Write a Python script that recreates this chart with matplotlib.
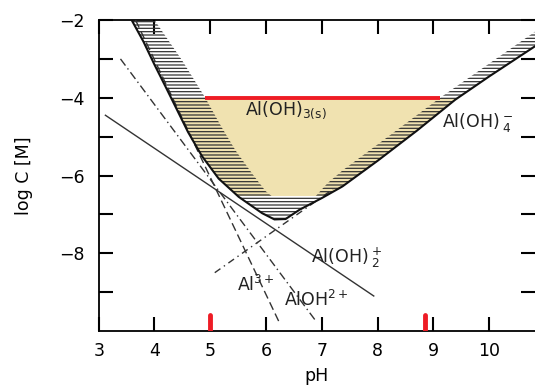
import matplotlib
matplotlib.use("Agg")
import matplotlib.pyplot as plt
from matplotlib.patches import Rectangle

plt.rcParams['font.family'] = ['DejaVu Sans']
plt.rcParams['mathtext.fontset'] = 'dejavusans'
plt.rcParams['hatch.linewidth'] = 0.9

# curva de solubilidade total (limite inferior da faixa hachurada)
outer_ph = [3.59, 3.8, 4.0, 4.2, 4.4, 4.6, 4.85, 5.15, 5.51, 5.93, 6.15, 6.35,
            6.6, 7.0, 7.37, 8.0, 8.7, 9.39, 10.0, 10.55, 10.9]
outer_log = [-2.0, -2.55, -3.15, -3.72, -4.3, -4.88, -5.5, -6.08, -6.55, -6.97, -7.13, -7.12,
             -6.88, -6.58, -6.28, -5.62, -4.85, -4.05, -3.45, -2.93, -2.6]

# limite superior da faixa hachurada
inner_ph = [4.0, 4.5, 4.91, 5.2, 5.45, 5.75, 5.99, 6.1, 6.89, 7.1, 7.37, 8.0, 9.12, 10.0, 10.9]
inner_log = [-2.0, -3.05, -4.0, -4.75, -5.35, -5.95, -6.4, -6.53, -6.53, -6.2, -5.87, -5.2,
             -4.0, -3.12, -2.22]

# retas das especies
al3_ph, al3_log = [3.66, 6.23], [-2.0, -9.76]
aloh_ph, aloh_log = [3.39, 6.88], [-3.0, -9.72]
aloh2_ph, aloh2_log = [3.12, 7.93], [-4.45, -9.1]
aloh4_ph, aloh4_log = [5.08, 7.2], [-8.5, -6.35]

# linha vermelha e marcas no eixo
red_ph, red_log = [4.9, 9.12], [-4.0, -4.0]
mark_ph = [5.0, 8.85]
mark_log = [-9.6, -10.0]
beige_lim = [-6.53, -4.0]

labels = ['Al(OH)$_{\\mathrm{3(s)}}$', 'Al(OH)$\\,{}_{4}^{-}$', 'Al(OH)$\\,{}_{2}^{+}$',
          'Al$^{3+}$', 'AlOH$^{2+}$']
label_ph = [5.63, 9.15, 6.8, 5.48, 6.32]
label_log = [-4.45, -4.75, -8.25, -8.96, -9.37]

fig = plt.figure(figsize=(5.35, 3.85), dpi=100)
ax = fig.add_axes([0.1845, 0.1403, 0.8155, 0.8077])

# fundo bege
bege = ax.fill(outer_ph + [outer_ph[-1], outer_ph[0]], outer_log + [0, 0],
               facecolor='#F0E2B0', edgecolor='none', zorder=1)[0]
clip = Rectangle((3, beige_lim[0]), 8, beige_lim[1] - beige_lim[0], transform=ax.transData)
bege.set_clip_path(clip)

# faixa hachurada
ax.fill(outer_ph + inner_ph[::-1], outer_log + inner_log[::-1], facecolor='none',
        edgecolor='#333333', hatch='-----', linewidth=0, zorder=2)

ax.plot(outer_ph, outer_log, color='#111111', lw=1.5, zorder=4)
ax.plot(al3_ph, al3_log, color='#333333', lw=1.0, dashes=(6, 3), zorder=3)
ax.plot(aloh_ph, aloh_log, color='#333333', lw=1.0, dashes=(6, 2.5, 1, 2.5), zorder=3)
ax.plot(aloh2_ph, aloh2_log, color='#333333', lw=1.0, zorder=3)
ax.plot(aloh4_ph, aloh4_log, color='#333333', lw=1.0, dashes=(5, 3, 1, 3), zorder=3)

ax.plot(red_ph, red_log, color='#EE1C25', lw=2.8, solid_capstyle='butt', zorder=5)
for p in mark_ph:
    ax.plot([p, p], mark_log, color='#EE1C25', lw=3.5, solid_capstyle='round', zorder=5)

for t, x, y in zip(labels, label_ph, label_log):
    ax.text(x, y, t, fontsize=12.5, color='#222222', ha='left', va='baseline', zorder=6)

ax.set_xlim(3, 10.82)
ax.set_ylim(-10, -2)
ax.set_xticks(range(3, 11))
ax.set_yticks([-8, -6, -4, -2])
ax.set_yticks([-9, -7, -5, -3], minor=True)
ax.spines['right'].set_visible(False)
for s in ['left', 'bottom', 'top']:
    ax.spines[s].set_linewidth(1.3)
ax.tick_params(which='both', direction='in', length=10, width=1.5, top=True, right=True,
               labelsize=12.5)
ax.tick_params(axis='x', pad=8)
ax.tick_params(axis='y', pad=10)
ax.set_xlabel('pH', fontsize=12.5, labelpad=5)
ax.set_ylabel('log C [M]', fontsize=12.5)
ax.yaxis.set_label_coords(-0.15, 0.5)

fig.savefig('out.png', dpi=100)
